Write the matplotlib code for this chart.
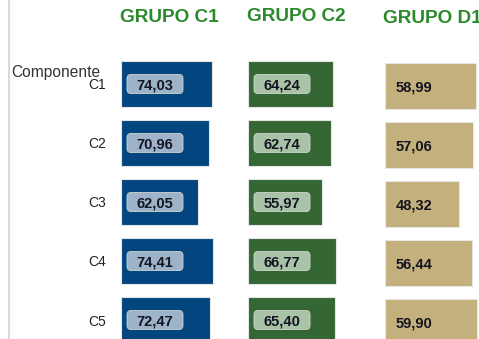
import matplotlib.pyplot as plt
from matplotlib.patches import FancyBboxPatch
from matplotlib.transforms import Affine2D, ScaledTranslation
from matplotlib.lines import Line2D

plt.rcParams['font.family'] = ['Liberation Sans', 'DejaVu Sans']

# dados por grupo
componentes = ['C1', 'C2', 'C3', 'C4', 'C5']
grupos = ['GRUPO C1', 'GRUPO C2', 'GRUPO D1']
grupo_c1 = [74.03, 70.96, 62.05, 74.41, 72.47]
grupo_c2 = [64.24, 62.74, 55.97, 66.77, 65.40]
grupo_d1 = [58.99, 57.06, 48.32, 56.44, 59.90]

W, H = 479, 339
fig = plt.figure(figsize=(W / 100, H / 100), dpi=100)

verde_titulo = '#2b8a2b'
cor_texto = '#141420'


def eixo_px(x0, y_top, w, h):
    # cria eixo a partir de coordenadas em pixels (origem no topo)
    return fig.add_axes([x0 / W, 1 - (y_top + h) / H, w / W, h / H])


# (valores, xmax, esquerda, largura, topo, cor barra, cor caixa, titulo x, titulo baseline)
paineis = [
    (grupo_c1, 81.0, 121, 100, 54.5, '#03467f', '#9db3c9', 120, 22),
    (grupo_c2, 75.6, 248, 100, 54.5, '#346734', '#a9c3a9', 247, 21),
    (grupo_d1, 61.2, 385, 94, 56.5, '#c4b07c', None, 383, 23),
]

for k, (vals, xmax, x0, w, top, cor, cor_caixa, tx, ty) in enumerate(paineis):
    ax = eixo_px(x0, top, w, 5 * 59)
    ax.barh(range(len(vals)), vals, height=0.77, color=cor,
            edgecolor='#e6e6e6', linewidth=0.8)
    for s in ax.spines.values():
        s.set_visible(False)
    ax.set_xticks([])
    if k == 0:
        ax.set_yticks(range(len(componentes)), componentes)
        ax.tick_params(axis='y', length=0, pad=11, labelsize=10, labelcolor='#222222')
    else:
        ax.set_yticks([])

    for i, v in enumerate(vals):
        # transformacao em pixels a partir do inicio da barra
        T = Affine2D() + ScaledTranslation(0, i, ax.transData)
        rotulo = f'{v:.2f}'.replace('.', ',')
        if cor_caixa is not None:
            caixa = FancyBboxPatch((6, -9.5), 56, 19,
                                   boxstyle='round,pad=0,rounding_size=4',
                                   transform=T, facecolor=cor_caixa,
                                   edgecolor='#d0d8d0', linewidth=0.6)
            ax.add_patch(caixa)
            ax.text(34, 0, rotulo, transform=T, ha='center', va='center_baseline',
                    fontsize=10.5, fontweight='bold', color=cor_texto)
        else:
            ax.text(11, 0, rotulo, transform=T, ha='left', va='center_baseline',
                    fontsize=10.5, fontweight='bold', color=cor_texto)
    ax.set_xlim(0, xmax)
    ax.set_ylim(len(vals) - 0.5, -0.5)

    fig.text(tx / W, 1 - ty / H, grupos[k], ha='left', va='baseline',
             fontsize=13.7, fontweight='bold', color=verde_titulo)

fig.text(11 / W, 1 - 73 / H, 'Componente', ha='left', va='center',
         fontsize=11.2, color='#333333')

fig.add_artist(Line2D([8.5 / W, 8.5 / W], [0, 1], transform=fig.transFigure,
                      color='#d9d9d9', linewidth=1.5))

fig.savefig('out.png', dpi=100)
